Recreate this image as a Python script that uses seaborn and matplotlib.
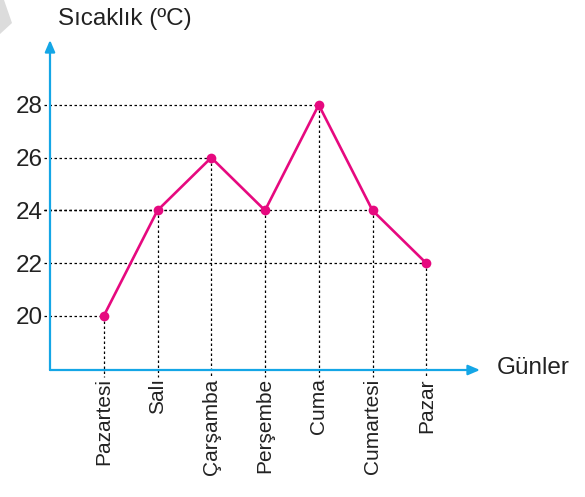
import numpy as np
import pandas as pd
import matplotlib.pyplot as plt
import seaborn as sns
from matplotlib.patches import Polygon

# data
gunler = ['Pazartesi', 'Salı', 'Çarşamba', 'Perşembe', 'Cuma', 'Cumartesi', 'Pazar']
sicaklik = [20, 24, 26, 24, 28, 24, 22]
y_ticks = [20, 22, 24, 26, 28]

df = pd.DataFrame({'gun': np.arange(len(gunler)), 'sicaklik': sicaklik})

sns.set_style('white')
plt.rcParams['font.family'] = ['Liberation Sans', 'DejaVu Sans']

axis_color = '#14a6e6'
line_color = '#e6097f'

fig = plt.figure(figsize=(5.85, 4.97), dpi=100)
ax = fig.add_axes([50 / 585, 1 - 370 / 497, 430 / 585, 330 / 497])

x_min, x_max = -1.0, 7.0
y_min, y_max = 17.95, 30.46

# dotted guide lines from each point to both axes
for xi, yi in zip(df['gun'], df['sicaklik']):
    ax.plot([x_min - 0.11, xi], [yi, yi], color='black', lw=0.9,
            linestyle=(0, (2, 2)), clip_on=False, zorder=1)
    ax.plot([xi, xi], [yi, y_min - 0.27], color='black', lw=0.9,
            linestyle=(0, (2, 2)), clip_on=False, zorder=1)

sns.lineplot(data=df, x='gun', y='sicaklik', color=line_color, lw=1.9,
             marker='o', markersize=7, markeredgewidth=0, ax=ax, zorder=3)

ax.set_xlim(x_min, x_max)
ax.set_ylim(y_min, y_max)
for s in ax.spines.values():
    s.set_visible(False)

ax.set_xticks(range(len(gunler)))
ax.set_xticklabels(gunler, rotation=90, fontsize=15, color='#222222')
ax.set_yticks(y_ticks)
ax.set_yticklabels([str(v) for v in y_ticks], fontsize=17.5, color='#222222')
ax.tick_params(axis='both', length=0)
ax.tick_params(axis='x', pad=6)
ax.tick_params(axis='y', pad=5)
ax.set_xlabel('')
ax.set_ylabel('')

# axis arrows
arrow = dict(arrowstyle='-|>,head_length=0.7,head_width=0.3', color=axis_color,
             lw=1.6, shrinkA=0, shrinkB=0)
ax.annotate('', xy=(0, 1), xytext=(0, 0), xycoords='axes fraction',
            arrowprops=arrow, annotation_clip=False)
ax.annotate('', xy=(1, 0), xytext=(0, 0), xycoords='axes fraction',
            arrowprops=arrow, annotation_clip=False)

fig.text(58 / 585, 1 - 19 / 497, 'Sıcaklık (ºC)', fontsize=17.5,
         color='#222222', va='center', ha='left')
fig.text(497 / 585, 1 - 368 / 497, 'Günler', fontsize=17.5,
         color='#222222', va='center', ha='left')

# grey corner mark
corner = Polygon([[0, 497], [4, 497], [12, 497 - 23], [0, 497 - 34]],
                 closed=True, transform=None, facecolor='#dcdcdc', edgecolor='none')
corner.set_transform(fig.dpi_scale_trans)
corner.set_xy(np.array([[0, 497], [4, 497], [12, 474], [0, 463]]) / 100)
fig.patches.append(corner)

fig.savefig('out.png', dpi=100)
plt.close()
